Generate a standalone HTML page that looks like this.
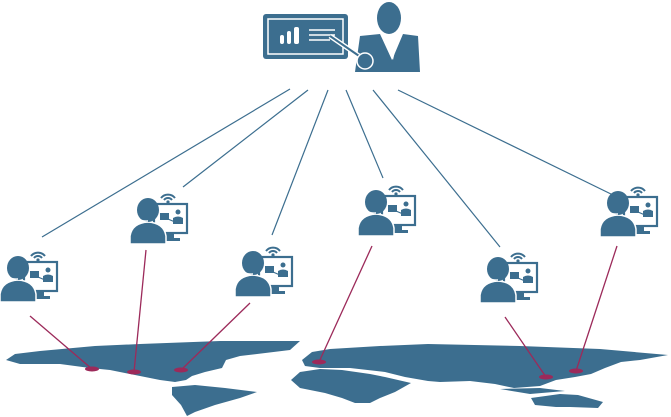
<!DOCTYPE html>
<html><head><meta charset="utf-8"><style>html,body{margin:0;padding:0;background:#fff}svg{display:block}</style></head>
<body>
<svg width="671" height="417" viewBox="0 0 671 417" xmlns="http://www.w3.org/2000/svg">
<defs>
<g id="v">
  <path d="M31,8 A9,9 0 0 1 45,8" fill="none" stroke="#3c6e8f" stroke-width="2"/>
  <path d="M34,10 A5,5 0 0 1 42,10" fill="none" stroke="#3c6e8f" stroke-width="2"/>
  <circle cx="38" cy="12" r="1.6" fill="#3c6e8f"/>
  <rect x="24" y="14" width="33" height="29" fill="none" stroke="#3c6e8f" stroke-width="2.2"/>
  <rect x="36" y="43" width="8" height="6" fill="#3c6e8f"/>
  <rect x="31" y="48" width="19" height="3" fill="#3c6e8f"/>
  <rect x="30" y="23" width="9" height="7" fill="#3c6e8f"/>
  <circle cx="48" cy="22" r="2.5" fill="#3c6e8f"/>
  <path d="M43,34 L43,28 Q48,25 53,28 L53,34 Z" fill="#3c6e8f"/>
  <line x1="38" y1="29" x2="45" y2="32" stroke="#3c6e8f" stroke-width="1.2"/>
  <path d="M0,54 L0,46 Q2,33 18,32 Q34,33 36,46 L36,54 Z" fill="#3c6e8f" stroke="#fff" stroke-width="1.5"/>
  <ellipse cx="18" cy="20" rx="11" ry="12" fill="#3c6e8f"/>
  <path d="M6,21 Q7,32 18,31" fill="none" stroke="#fff" stroke-width="1.4"/>
  <rect x="4" y="16" width="3" height="8" rx="1" fill="#fff"/>
</g>
</defs>
<g stroke="#3c6e8f" stroke-width="1.2">
<line x1="290" y1="89" x2="42" y2="237"/>
<line x1="308" y1="90" x2="183" y2="187"/>
<line x1="328" y1="90" x2="272" y2="235"/>
<line x1="346" y1="90" x2="383" y2="178"/>
<line x1="373" y1="90" x2="500" y2="247"/>
<line x1="398" y1="90" x2="613" y2="195"/>
</g>
<g fill="#3c6e8f">
<path d="M6,360 L15,354 L40,351 L95,346 L140,344 L220,341 L300,341 L290,350 L240,356 L226,360 L222,368 L205,372 L192,376 L186,380 L175,382 L160,380 L145,377 L130,374 L110,370 L90,368 L60,364 L20,364 Z"/>
<path d="M172,387 L195,385 L225,388 L257,392 L240,398 L215,405 L195,412 L187,416 L181,405 L172,395 Z"/>
<path d="M302,360 L312,352 L330,349 L380,346 L428,344 L520,346 L600,349 L668,355 L640,360 L621,362 L605,368 L591,374 L575,377 L556,380 L540,386 L514,388 L495,384 L470,381 L440,382 L428,381 L405,377 L385,372 L350,368 L320,368 L305,366 Z"/>
<path d="M291,380 L300,372 L320,369 L342,370 L370,374 L385,377 L411,383 L395,392 L380,398 L370,403 L355,403 L342,398 L325,393 L300,388 Z"/>
<path d="M531,398 L560,394 L578,395 L603,402 L598,408 L570,407 L556,407 L535,405 Z"/>
<path d="M500,389 L540,388 L565,391 L530,394 Z"/>
</g>
<g stroke="#9c2a5a" stroke-width="1.3">
<line x1="30" y1="316" x2="92" y2="369"/>
<line x1="146" y1="250" x2="134" y2="372"/>
<line x1="250" y1="303" x2="181" y2="370"/>
<line x1="372" y1="246" x2="319" y2="362"/>
<line x1="505" y1="317" x2="546" y2="377"/>
<line x1="617" y1="246" x2="576" y2="371"/>
</g>
<g fill="#9c2a5a">
<ellipse cx="92" cy="369" rx="7" ry="2.5"/>
<ellipse cx="134" cy="372" rx="7" ry="2.5"/>
<ellipse cx="181" cy="370" rx="7" ry="2.5"/>
<ellipse cx="319" cy="362" rx="7" ry="2.5"/>
<ellipse cx="546" cy="377" rx="7" ry="2.5"/>
<ellipse cx="576" cy="371" rx="7" ry="2.5"/>
</g>
<use href="#v" x="0" y="248"/>
<use href="#v" x="130" y="190"/>
<use href="#v" x="235" y="243"/>
<use href="#v" x="358" y="182"/>
<use href="#v" x="480" y="249"/>
<use href="#v" x="600" y="183"/>
<g>
<rect x="263" y="14" width="85" height="45" rx="3" fill="#3c6e8f"/>
<rect x="268" y="19" width="75" height="35" fill="none" stroke="#fff" stroke-width="1.5"/>
<rect x="280" y="35" width="4" height="9" rx="2" fill="#fff"/>
<rect x="287" y="31" width="4" height="13" rx="2" fill="#fff"/>
<rect x="294" y="27" width="5" height="17" rx="2" fill="#fff"/>
<line x1="309" y1="30" x2="335" y2="30" stroke="#fff" stroke-width="1.5"/>
<line x1="309" y1="35" x2="335" y2="35" stroke="#fff" stroke-width="1.5"/>
<line x1="309" y1="40" x2="330" y2="40" stroke="#fff" stroke-width="1.5"/>
<path d="M360,36 L380,34 L392,60 L403,34 L418,36 L420,72 L355,72 Z" fill="#3c6e8f"/>
<path d="M392,40 L396,47 L393,60 L389,47 Z" fill="#fff"/>
<ellipse cx="389" cy="18" rx="12" ry="16" fill="#3c6e8f"/>
<line x1="330" y1="36" x2="362" y2="58" stroke="#fff" stroke-width="5"/>
<line x1="330" y1="36" x2="362" y2="58" stroke="#3c6e8f" stroke-width="2"/>
<circle cx="365" cy="61" r="8" fill="#3c6e8f" stroke="#fff" stroke-width="1.5"/>
</g>
</svg>
</body></html>
